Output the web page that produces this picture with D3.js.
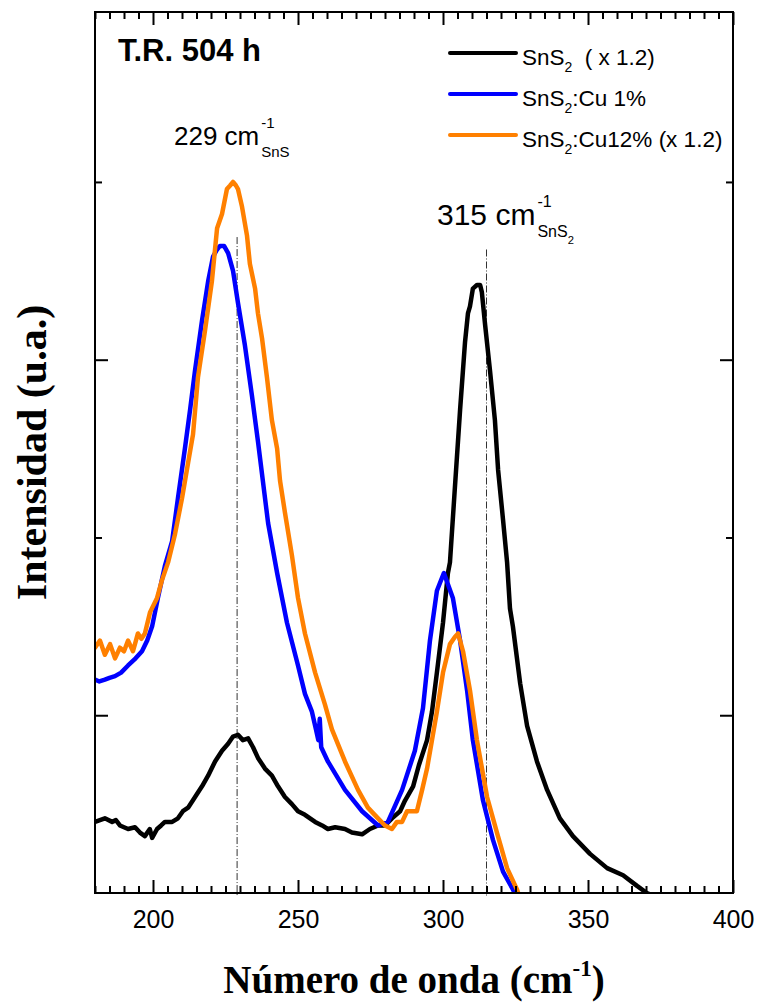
<!DOCTYPE html>
<html>
<head>
<meta charset="utf-8">
<script src="https://cdn.jsdelivr.net/npm/d3@7"></script>
<style>
  body { margin: 0; background: #fff; }
  svg { display: block; }
  text { white-space: pre; }
</style>
</head>
<body>
<svg id="chart" width="759" height="1004"></svg>
<script>
// Raman spectra, [wavenumber (cm^-1), intensity (a.u.)]
const sns2 = [
  [180,700],[181.7,705],[183.4,710],[185.9,700],[187.2,705],[188.6,690],[191.4,680],[193.8,685],[195.5,670],
  [197.2,660],[198.9,680],[199.7,655],[201.4,680],[202.8,690],[204.1,700],[206.6,700],[208.6,710],[210.3,730],
  [212.1,740],[214.5,770],[216.9,800],[219,830],[221.4,870],[223.8,900],[225.9,920],[227.6,940],
  [229.3,945],[231,930],[232.8,935],[234.5,910],[236.2,880],[238.6,850],[241,830],[243.1,800],
  [245.5,770],[247.9,750],[250,730],[252.4,720],[255.9,700],[258.3,690],[260.3,680],[262.8,685],
  [266.2,680],[268.6,670],[272.1,665],[274.8,680],[277.6,690],[280,690],[282.4,710],[285.2,730],
  [286.9,760],[289.7,800],[291.7,860],[294.5,930],[296.2,1010],[297.9,1120],[300,1260],[301.7,1400],
  [302.4,1430],[304.1,1640],[305.9,1860],[307.6,2050],[308.6,2130],[309.3,2150],[310.3,2200],
  [311.7,2210],[312.8,2210],[313.4,2190],[314.5,2100],[316.2,1970],[317.9,1830],[319,1690],
  [320.7,1550],[322.1,1430],[323.1,1300],[324.1,1250],[326.6,1090],[329,970],[332.4,870],
  [335.9,790],[340.3,710],[344.8,660],[350.7,610],[356.6,570],[362.1,550],[366.9,520],
  [370.3,500],[373.1,490],[376.6,480]
];

const snsCu1 = [
  [180,1100],[181.5,1095],[183.4,1100],[185,1105],[186.9,1110],[189,1120],[191.4,1140],[194,1160],
  [196.2,1180],[198,1210],[199.7,1250],[201.7,1330],[204.1,1420],[206.6,1490],[208.6,1610],
  [211,1750],[212.8,1860],[214.5,1970],[216.9,2110],[219,2220],[220.7,2290],[222.1,2310],
  [223.1,2320],[224.5,2320],[225.9,2300],[227.6,2250],[229.3,2160],[231.7,2040],[234.1,1900],
  [236.2,1770],[239.7,1540],[242.8,1400],[246.2,1260],[250,1140],[252.4,1060],[254.8,1010],
  [256.2,960],[257,930],[257.5,990],[258,910],[260.3,870],[266.2,790],[272.1,730],[277.6,690],
  [281,700],[285.9,790],[290.3,900],[293.1,1020],[295.5,1210],[297.9,1350],[300.3,1400],
  [303.4,1330],[305.9,1210],[308.3,1070],[310.3,930],[313.8,760],[317.2,650],[320.7,560],
  [324.1,510],[326.6,470]
];

const snsCu12 = [
  [180,1190],[181.7,1210],[183.4,1170],[185.2,1200],[186.9,1160],[188.6,1190],[190,1180],
  [191.4,1210],[193.1,1180],[194.8,1230],[196,1215],[197.2,1230],[199,1290],[201.4,1330],[203.1,1380],
  [205.2,1430],[207.6,1510],[210,1610],[212.1,1710],[213.8,1790],[215.5,1950],[217.9,2080],
  [220.3,2220],[222.1,2370],[223.8,2410],[225.5,2480],[226.6,2490],[227.6,2500],[228.6,2490],
  [229.3,2480],[230.7,2430],[232.4,2350],[233.4,2270],[235.2,2200],[236.2,2130],[237.6,2060],
  [239.3,1950],[241,1830],[242.8,1750],[243.8,1660],[245.5,1570],[247.9,1450],[250,1330],
  [252.4,1230],[255.9,1120],[259.3,1030],[261.7,960],[266.2,870],[270.7,790],[274.1,740],
  [277.6,710],[280,690],[282.4,680],[284.1,700],[285.9,700],[287.6,730],[289.3,730],[291,730],
  [292.8,790],[294.5,850],[296.2,930],[297.9,1010],[300,1120],[302.4,1200],[304.1,1220],
  [305.2,1230],[306.9,1180],[309.3,1070],[311.7,930],[315.2,770],[318.6,670],[322.1,570],
  [325.5,510],[327.2,470]
];

const seriesData = [sns2, snsCu1, snsCu12];
const seriesColors = ["#000000", "#0000ff", "#ff8000"];
// legend labels: [main, subscript, rest]
const legendLabels = [
  ["SnS", "2", "  ( x 1.2)"],
  ["SnS", "2", ":Cu 1%"],
  ["SnS", "2", ":Cu12% (x 1.2)"]
];

const xMajorTicks = [200, 250, 300, 350, 400];
const xMinorTicks = d3.range(180, 401, 5).filter(v => v % 50 !== 0);
const yMajorTicks = [1000, 2000];
const yMinorTicks = [1500, 2500];

// reference lines at the SnS and SnS2 modes, with their top end (a.u.)
const peakMarks = [
  { wn: 229, top: 2345 },
  { wn: 315, top: 2310 }
];

const W = 759, H = 1004;
const margin = { top: 12, right: 26, bottom: 111, left: 95 };
const SANS = "'Liberation Sans', Arial, sans-serif";
const SERIF = "'Liberation Serif', 'Times New Roman', serif";

const svg = d3.select("#chart");

const x = d3.scaleLinear().domain([180, 400]).range([margin.left, W - margin.right]);
const y = d3.scaleLinear().domain([500, 2978]).range([H - margin.bottom, margin.top]);

const x0 = margin.left, x1 = W - margin.right;
const y0 = H - margin.bottom, y1 = margin.top;

svg.append("clipPath").attr("id", "plotClip")
  .append("rect").attr("x", x0).attr("y", y1).attr("width", x1 - x0).attr("height", y0 - y1);

// dash-dot reference lines
svg.append("g").selectAll("line").data(peakMarks).join("line")
  .attr("x1", d => x(d.wn)).attr("x2", d => x(d.wn))
  .attr("y1", d => y(d.top)).attr("y2", y0 + 3)
  .attr("stroke", "#333").attr("stroke-width", 1)
  .attr("stroke-dasharray", "7,2,1,2");

// spectra
const line = d3.line().x(d => x(d[0])).y(d => y(d[1]));
svg.append("g").attr("clip-path", "url(#plotClip)")
  .selectAll("path").data(seriesData).join("path")
  .attr("d", line)
  .attr("fill", "none")
  .attr("stroke", (d, i) => seriesColors[i])
  .attr("stroke-width", 4.5)
  .attr("stroke-linejoin", "round")
  .attr("stroke-linecap", "round");

// axes (ticks pointing inwards on all four sides)
function styleAxis(g) {
  g.select(".domain").remove();
  g.selectAll(".tick line").attr("stroke", "#000").attr("stroke-width", 2);
  g.selectAll(".tick text").attr("font-family", SANS).attr("font-size", 25).attr("fill", "#000");
}
svg.append("g").attr("transform", `translate(0,${y0})`)
  .call(d3.axisBottom(x).tickValues(xMinorTicks).tickSize(-7).tickFormat("")).call(styleAxis);
svg.append("g").attr("transform", `translate(0,${y0})`)
  .call(d3.axisBottom(x).tickValues(xMajorTicks).tickSize(-13).tickPadding(17).tickFormat(d3.format("d")))
  .call(styleAxis);
svg.append("g").attr("transform", `translate(0,${y1})`)
  .call(d3.axisTop(x).tickValues(xMinorTicks).tickSize(-7).tickFormat("")).call(styleAxis);
svg.append("g").attr("transform", `translate(0,${y1})`)
  .call(d3.axisTop(x).tickValues(xMajorTicks).tickSize(-13).tickFormat("")).call(styleAxis);
svg.append("g").attr("transform", `translate(${x0},0)`)
  .call(d3.axisLeft(y).tickValues(yMinorTicks).tickSize(-7).tickFormat("")).call(styleAxis);
svg.append("g").attr("transform", `translate(${x0},0)`)
  .call(d3.axisLeft(y).tickValues(yMajorTicks).tickSize(-13).tickFormat("")).call(styleAxis);
svg.append("g").attr("transform", `translate(${x1},0)`)
  .call(d3.axisRight(y).tickValues(yMinorTicks).tickSize(-7).tickFormat("")).call(styleAxis);
svg.append("g").attr("transform", `translate(${x1},0)`)
  .call(d3.axisRight(y).tickValues(yMajorTicks).tickSize(-13).tickFormat("")).call(styleAxis);

// frame
svg.append("rect").attr("x", x0).attr("y", y1).attr("width", x1 - x0).attr("height", y0 - y1)
  .attr("fill", "none").attr("stroke", "#000").attr("stroke-width", 2);

// sample label
svg.append("text").attr("x", 118).attr("y", 61)
  .attr("font-family", SANS).attr("font-weight", "bold").attr("font-size", 31)
  .text("T.R. 504 h");

// legend
const legend = svg.append("g");
legendLabels.forEach((parts, i) => {
  const base = 65 + i * 41;
  legend.append("line")
    .attr("x1", 450).attr("x2", 516).attr("y1", base - 12).attr("y2", base - 12)
    .attr("stroke", seriesColors[i]).attr("stroke-width", 4).attr("stroke-linecap", "round");
  const t = legend.append("text").attr("x", 522).attr("y", base)
    .attr("font-family", SANS).attr("font-size", 22.5);
  t.append("tspan").text(parts[0]);
  t.append("tspan").attr("font-size", 14).attr("dy", 7).text(parts[1]);
  t.append("tspan").attr("dy", -7).text(parts[2]);
});

// peak annotations: main text with stacked superscript / subscript
function peakLabel(px, py, size, main, sup, sub, subSub, supSize, supDy, subDy) {
  const g = svg.append("g");
  const t = g.append("text").attr("x", px).attr("y", py)
    .attr("font-family", SANS).attr("font-size", size).text(main);
  const len = t.node().getComputedTextLength();
  const sx = px + len + 2;
  g.append("text").attr("x", sx).attr("y", py + supDy)
    .attr("font-family", SANS).attr("font-size", supSize).text(sup);
  const s = g.append("text").attr("x", sx).attr("y", py + subDy)
    .attr("font-family", SANS).attr("font-size", supSize);
  s.append("tspan").text(sub);
  if (subSub) s.append("tspan").attr("font-size", supSize * 0.7).attr("dy", 7).text(subSub);
}
peakLabel(174, 145, 26, "229 cm", "-1", "SnS", null, 15, -17, 12);
peakLabel(437, 225, 30, "315 cm", "-1", "SnS", "2", 16, -18, 12);

// axis titles
const xt = svg.append("text").attr("x", (x0 + x1) / 2).attr("y", 993)
  .attr("text-anchor", "middle").attr("font-family", SERIF).attr("font-weight", "bold")
  .attr("font-size", 39);
xt.append("tspan").text("Número de onda (cm");
xt.append("tspan").attr("font-size", 23).attr("dy", -17).text("-1");
xt.append("tspan").attr("dy", 17).text(")");

svg.append("text").attr("transform", `translate(46,${(y0 + y1) / 2}) rotate(-90)`)
  .attr("text-anchor", "middle").attr("font-family", SERIF).attr("font-weight", "bold")
  .attr("font-size", 42).text("Intensidad (u.a.)");
</script>
</body>
</html>
